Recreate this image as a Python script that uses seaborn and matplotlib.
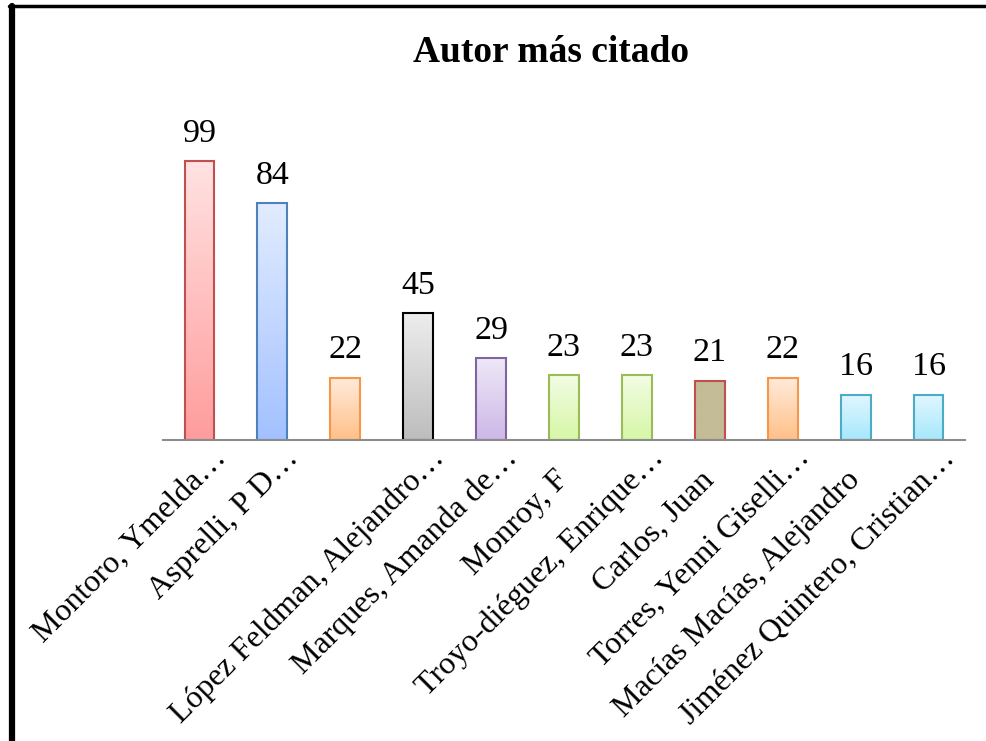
import numpy as np
import pandas as pd
import matplotlib
matplotlib.use("Agg")
import matplotlib.pyplot as plt
import matplotlib.transforms as mtransforms
from matplotlib.colors import LinearSegmentedColormap
from matplotlib.lines import Line2D
import seaborn as sns

# datos
autores = ["Montoro, Ymelda…", "Asprelli, P D…", "", "López Feldman, Alejandro…",
           "Marques, Amanda de…", "Monroy, F", "Troyo-diéguez, Enrique…",
           "Carlos, Juan", "Torres, Yenni Giselli…", "Macías Macías, Alejandro",
           "Jiménez Quintero, Cristian…"]
citas = [99, 84, 22, 45, 29, 23, 23, 21, 22, 16, 16]

bordes = ["#C0504D", "#4F81BD", "#F79646", "#000000", "#8064A2", "#9BBB59",
          "#9BBB59", "#C0504D", "#F79646", "#4BACC6", "#4BACC6"]
arriba = ["#FFE2E2", "#E2ECFF", "#FFEADA", "#EDEDED", "#EEE8F7", "#F2FCE4",
          "#F2FCE4", "#C4BC96", "#FFEADA", "#E2F7FF", "#E2F7FF"]
abajo = ["#FF9C9C", "#A2C1FF", "#FFC088", "#BDBDBD", "#CDB7E7", "#D6F7A6",
         "#D6F7A6", "#C4BC96", "#FFC088", "#A6E8FC", "#A6E8FC"]

sns.set_style("white")
plt.rcParams["font.family"] = ["Liberation Serif", "DejaVu Serif"]
plt.rcParams["text.color"] = "black"

df = pd.DataFrame({"autor": autores, "citas": citas})

fig = plt.figure(figsize=(9.87, 7.41), dpi=100)
ax = fig.add_axes([163 / 987, 301 / 741, 802 / 987, 310 / 741])

sns.barplot(data=df, x="autor", y="citas", hue="autor", order=autores,
            hue_order=autores, palette=bordes, legend=False, width=0.41,
            ax=ax, saturation=1)

# degradado dentro de cada barra
barras = sorted(ax.patches, key=lambda p: p.get_x())
grad = np.linspace(0, 1, 256).reshape(-1, 1)
for i, p in enumerate(barras):
    x0, w, h = p.get_x(), p.get_width(), p.get_height()
    cmap = LinearSegmentedColormap.from_list(f"g{i}", [abajo[i], arriba[i]])
    im = ax.imshow(grad, cmap=cmap, origin="lower", aspect="auto",
                   extent=(x0, x0 + w, 0, h), zorder=p.get_zorder() - 0.1)
    im.set_clip_path(p)
    p.set_facecolor("none")
    p.set_edgecolor(bordes[i])
    p.set_linewidth(1.5)

ax.set_xlim(-0.5, len(autores) - 0.5)
ax.set_ylim(0, 110)

for c in ax.containers:
    ax.bar_label(c, padding=9, fontsize=24.5, color="black")

sns.despine(ax=ax, left=True)
ax.spines["bottom"].set_color("#8C8C8C")
ax.spines["bottom"].set_linewidth(1.5)
ax.set_yticks([])
ax.set_xticks(range(len(autores)))
ax.set_xticklabels([])
ax.tick_params(axis="x", length=0)
ax.set_xlabel("")
ax.set_ylabel("")

# etiquetas rotadas
for i, nombre in enumerate(autores):
    if nombre.endswith("…"):
        dx, dy = 19.9, -13.8
    else:
        dx, dy = 4.1, -29.5
    off = mtransforms.ScaledTranslation(dx / 72, dy / 72, fig.dpi_scale_trans)
    ax.text(i, 0, nombre, transform=ax.transData + off, rotation=45,
            rotation_mode="anchor", ha="right", va="baseline", fontsize=23,
            color="black", clip_on=False)

fig.text(551 / 987, 1 - 52 / 741, "Autor más citado", ha="center",
         va="center", fontsize=27, fontweight="bold", color="black")

# marco del grafico
fig.add_artist(Line2D([12 / 987, 12 / 987], [0, 1 - 5.5 / 741],
                      transform=fig.transFigure, color="black", lw=4.5))
fig.add_artist(Line2D([9 / 987, 1], [1 - 5.5 / 741, 1 - 5.5 / 741],
                      transform=fig.transFigure, color="black", lw=2.5))

fig.savefig("out.png", dpi=100)
